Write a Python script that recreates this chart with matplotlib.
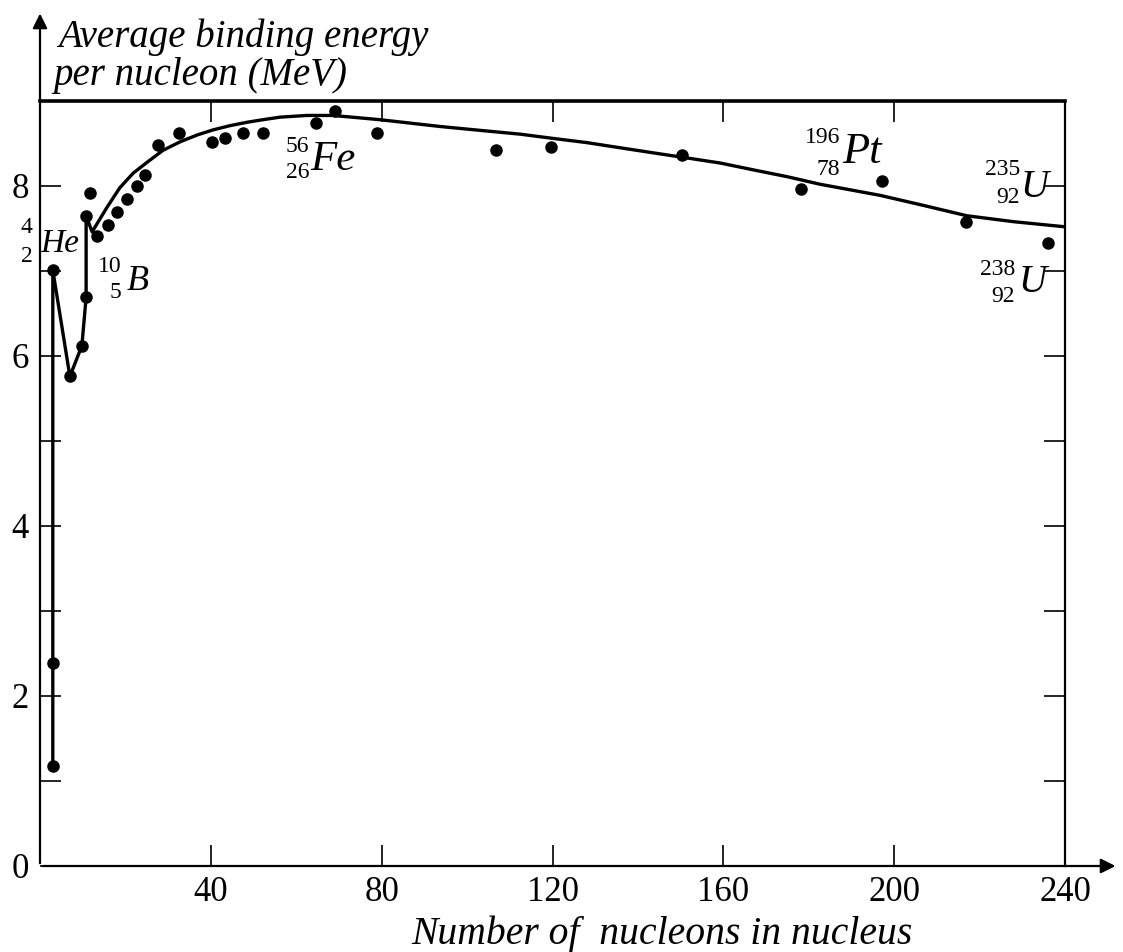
import matplotlib
matplotlib.use('Agg')
from matplotlib import pyplot as plt

# measured points (A, MeV)
pts_a = [3, 3, 3, 7.0, 9.8, 10.8, 10.8, 11.7, 13.3, 15.9, 18.0, 20.4, 22.7, 24.6, 27.6,
         32.6, 40.3, 43.3, 47.5, 52.2, 64.6, 69.1, 78.9, 106.8, 119.7, 150.4, 178.2,
         197.2, 216.9, 236.0]
pts_e = [1.18, 2.39, 7.01, 5.76, 6.12, 6.69, 7.65, 7.92, 7.41, 7.54, 7.69, 7.85, 8.00,
         8.13, 8.48, 8.62, 8.52, 8.56, 8.62, 8.62, 8.74, 8.88, 8.62, 8.42, 8.46, 8.36,
         7.96, 8.06, 7.58, 7.33]

# drawn curve
curve_a = [3, 3, 7.0, 9.8, 10.8, 10.8, 12.2, 15.7, 18.7, 21.8, 25.1, 28.8, 32.8, 36.8,
           40.5, 44.5, 48.5, 52.2, 56.2, 62.5, 68.6, 79.6, 93.7, 104, 112.4, 120.1, 128.1,
           135.8, 143.6, 151.5, 159.3, 167, 174.9, 182.7, 196.7, 207, 217, 228, 240]
curve_e = [1.18, 7.01, 5.76, 6.12, 6.69, 7.65, 7.46, 7.75, 7.98, 8.15, 8.28, 8.42, 8.52,
           8.60, 8.66, 8.71, 8.75, 8.78, 8.81, 8.83, 8.83, 8.78, 8.70, 8.65, 8.61, 8.56,
           8.51, 8.45, 8.39, 8.33, 8.27, 8.19, 8.11, 8.02, 7.89, 7.77, 7.65, 7.58, 7.52]

x_ticks = [40, 80, 120, 160, 200, 240]
y_major = [0, 2, 4, 6, 8]
y_minor = [1, 3, 5, 7]

# isotope labels:
# mass, charge, symbol, symbol size, symbol left x, symbol baseline,
# numbers right x, mass baseline, charge baseline
isotopes = [
    ('4', '2', 'He', 24, 0.0, 7.22, -1.7, 7.45, 7.11),
    ('10', '5', 'B', 26, 20.4, 6.78, 19.0, 6.99, 6.68),
    ('56', '26', 'Fe', 31, 63.2, 8.19, 63.0, 8.40, 8.09),
    ('196', '78', 'Pt', 32, 187.8, 8.27, 187.4, 8.51, 8.13),
    ('235', '92', 'U', 28, 229.5, 7.87, 229.5, 8.13, 7.80),
    ('238', '92', 'U', 28, 229.0, 6.75, 228.3, 6.95, 6.64),
]

plt.rcParams['font.family'] = ['Liberation Serif', 'DejaVu Serif']

W, H = 1123, 952
fig = plt.figure(figsize=(W / 100, H / 100), dpi=100)
ax = fig.add_axes([40 / W, 86 / H, 1025 / W, 765 / H])
ax.set_xlim(0, 240)
ax.set_ylim(0, 9)

ax.plot(curve_a, curve_e, color='black', lw=2.4, solid_joinstyle='round')
ax.plot(pts_a, pts_e, 'o', color='black', ms=8)

ax.spines['left'].set_visible(False)
ax.spines['bottom'].set_visible(False)
ax.spines['top'].set_linewidth(2.6)
ax.spines['right'].set_linewidth(1.6)

# axes with arrows
ax.annotate('', xy=(1.052, 0), xytext=(0, 0), xycoords='axes fraction',
            arrowprops=dict(arrowstyle='-|>', color='black', lw=1.6, mutation_scale=22))
ax.annotate('', xy=(0, 1.118), xytext=(0, 0), xycoords='axes fraction',
            arrowprops=dict(arrowstyle='-|>', color='black', lw=1.6, mutation_scale=22))

ax.set_xticks(x_ticks)
ax.set_xticklabels([str(t) for t in x_ticks])
ax.set_yticks(y_major)
ax.set_yticklabels([str(t) for t in y_major])
ax.set_yticks(y_minor, minor=True)
ax.tick_params(axis='both', which='both', direction='in', length=15, width=1.2,
               top=True, right=True, labelsize=25, color='black')
ax.tick_params(axis='x', pad=7)
ax.tick_params(axis='y', pad=8)

fig.text(58 / W, 1 - 47 / H, 'Average binding energy', style='italic', fontsize=28,
         va='baseline', ha='left')
fig.text(53 / W, 1 - 85 / H, 'per nucleon (MeV)', style='italic', fontsize=28,
         va='baseline', ha='left')
fig.text(662 / W, 1 - 944 / H, 'Number of  nucleons in nucleus', style='italic',
         fontsize=28.5, va='baseline', ha='center')

for mass, z, sym, size, xs, ys, xn, ym, yz in isotopes:
    ax.text(xs, ys, sym, style='italic', fontsize=size, ha='left', va='baseline')
    ax.text(xn, ym, mass, fontsize=17, ha='right', va='baseline')
    ax.text(xn, yz, z, fontsize=17, ha='right', va='baseline')

fig.savefig('out.png', dpi=100)
